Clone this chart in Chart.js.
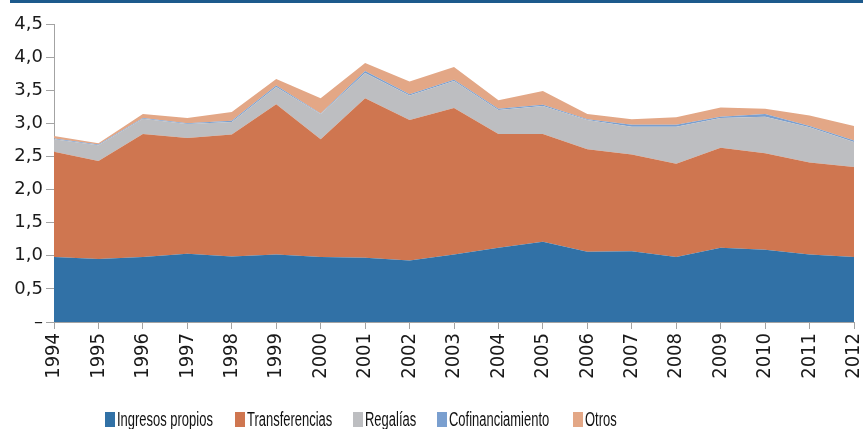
<!DOCTYPE html>
<html>
<head>
<meta charset="utf-8">
<script src="https://cdn.jsdelivr.net/npm/chart.js@4/dist/chart.umd.min.js"></script>
<style>
  html, body { margin: 0; padding: 0; background: #ffffff; }
  #wrap { position: relative; width: 863px; height: 429px; overflow: hidden; }
  #topbar { position: absolute; left: 10px; top: 0; width: 853px; height: 3px; background: #1d5a8c; }
  #legend { position: absolute; left: 0; top: 0; width: 863px; height: 429px; pointer-events: none; }
  .lg-box { position: absolute; top: 412px; width: 10px; height: 15px; }
  .lg-text { position: absolute; top: 410px; line-height: 19.5px; font-size: 19.5px; white-space: nowrap;
             font-family: 'Liberation Sans', Arial, sans-serif;
             color: #111; transform-origin: 0 0; transform: scaleX(0.665); }
</style>
</head>
<body>
<div id="wrap">
  <canvas id="c" width="863" height="429"></canvas>
  <div id="topbar"></div>
  <div id="legend"></div>
</div>
<script>
// ---- data ----
const years = ['1994','1995','1996','1997','1998','1999','2000','2001','2002','2003','2004','2005','2006','2007','2008','2009','2010','2011','2012'];
const ingresosPropios = [0.98,0.95,0.98,1.03,0.99,1.02,0.98,0.97,0.93,1.02,1.12,1.21,1.06,1.07,0.98,1.12,1.09,1.02,0.98];
const transferencias  = [1.59,1.48,1.86,1.75,1.84,2.27,1.78,2.41,2.12,2.21,1.72,1.63,1.55,1.46,1.41,1.51,1.46,1.39,1.36];
const regalias        = [0.19,0.24,0.23,0.21,0.19,0.26,0.38,0.38,0.37,0.41,0.36,0.42,0.44,0.42,0.56,0.45,0.55,0.53,0.38];
const cofinanciamiento= [0.01,0.01,0.01,0.01,0.02,0.02,0.01,0.03,0.02,0.02,0.02,0.02,0.01,0.03,0.03,0.02,0.04,0.02,0.02];
const otros           = [0.04,0.02,0.06,0.08,0.13,0.10,0.23,0.12,0.19,0.19,0.13,0.21,0.08,0.08,0.11,0.14,0.08,0.16,0.22];
const seriesNames = ['Ingresos propios','Transferencias','Regalías','Cofinanciamiento','Otros'];
const yTicks = [0,0.5,1.0,1.5,2.0,2.5,3.0,3.5,4.0,4.5];

const colors = ['#3171a6','#cf7650','#bdbec1','#7a9fcf','#e3a786'];
const seriesData = [ingresosPropios, transferencias, regalias, cofinanciamiento, otros];

const datasets = seriesData.map((d, i) => ({
  label: seriesNames[i],
  data: d,
  backgroundColor: colors[i],
  borderColor: colors[i],
  borderWidth: 0,
  fill: i === 0 ? 'origin' : '-1',
  pointRadius: 0,
  tension: 0
}));

const axisGrey = '#a3a3a3';

new Chart(document.getElementById('c'), {
  type: 'line',
  data: { labels: years, datasets },
  options: {
    responsive: false,
    animation: false,
    layout: { padding: { left: 0, right: 9, top: 24, bottom: 0 } },
    plugins: { legend: { display: false }, tooltip: { enabled: false } },
    scales: {
      x: {
        offset: false,
        grid: { display: true, drawOnChartArea: false, drawTicks: true, tickLength: 7, color: axisGrey },
        border: { display: true, color: axisGrey },
        ticks: {
          autoSkip: false, minRotation: 90, maxRotation: 90, padding: 4,
          color: '#1a1a1a', font: { family: "'DejaVu Sans Condensed', 'DejaVu Sans'", size: 20 }
        },
        afterFit(s) { s.height = 107; s.paddingLeft = 0; s.paddingRight = 0; }
      },
      y: {
        stacked: true, min: 0, max: 4.5,
        afterBuildTicks(s) { s.ticks = yTicks.map(v => ({ value: v })); },
        grid: { display: true, drawOnChartArea: false, drawTicks: true, tickLength: 8, color: axisGrey },
        border: { display: true, color: axisGrey },
        ticks: {
          padding: 3, color: '#1a1a1a', font: { family: 'DejaVu Sans', size: 18 },
          callback: v => v === 0 ? '–' : Number(v).toFixed(1).replace('.', ',')
        },
        afterFit(s) { s.width = 54; }
      }
    }
  }
});

// HTML legend built from series names/colours
const legendLefts = [105, 235, 353, 437, 573];
const lg = document.getElementById('legend');
seriesNames.forEach((name, i) => {
  const b = document.createElement('div');
  b.className = 'lg-box';
  b.style.left = legendLefts[i] + 'px';
  b.style.background = colors[i];
  lg.appendChild(b);
  const t = document.createElement('div');
  t.className = 'lg-text';
  t.style.left = (legendLefts[i] + 12) + 'px';
  t.textContent = name;
  lg.appendChild(t);
});
</script>
</body>
</html>
